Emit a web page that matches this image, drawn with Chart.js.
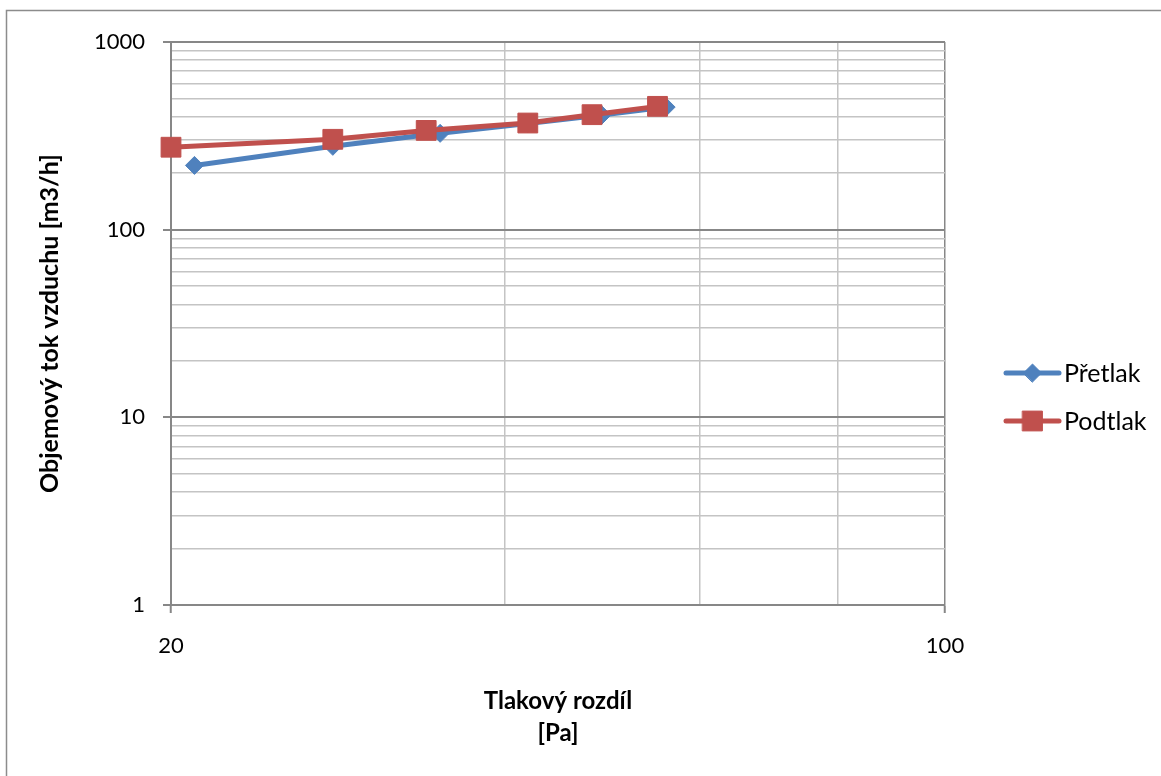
<!DOCTYPE html>
<html lang="cs">
<head>
<meta charset="utf-8">
<title>Objemový tok vzduchu</title>
<script src="https://cdn.jsdelivr.net/npm/chart.js@4/dist/chart.umd.min.js"></script>
<style>
  html, body { margin: 0; padding: 0; background: #ffffff; }
  #wrap { position: relative; width: 1161px; height: 776px; }
</style>
</head>
<body>
<div id="wrap"><canvas id="chart"></canvas></div>
<script>
// Measured series: pressure difference [Pa] vs. air flow [m3/h]
const pretlakX = [21, 28, 35, 42, 49, 56];
const pretlakY = [220, 278, 326, 368, 408, 450];
const podtlakX = [20, 28, 34, 42, 48, 55];
const podtlakY = [275, 303, 338, 370, 410, 454];

const seriesNames = ['Přetlak', 'Podtlak'];

// Axis ticks (log scales)
const yTickValues = [1, 2, 3, 4, 5, 6, 7, 8, 9,
                     10, 20, 30, 40, 50, 60, 70, 80, 90,
                     100, 200, 300, 400, 500, 600, 700, 800, 900, 1000];
const yLabelValues = [1, 10, 100, 1000];
const xTickValues = [20, 40, 60, 80, 100];
const xLabelValues = [20, 100];

const yTitle = 'Objemový tok vzduchu [m3/h]';
const xTitleLines = ['Tlakový rozdíl', '[Pa]'];

const BLUE = '#4F81BD';
const RED = '#C0504D';
const MAJOR_GRID = '#878787';
const MINOR_GRID = '#c4c4c4';
const FONT = 'Lato, "Open Sans", sans-serif';

const toPoints = (xs, ys) => xs.map((x, i) => ({ x: x, y: ys[i] }));

// Titles, legend and the outer frame are painted directly on the canvas
const decorations = {
  id: 'decorations',
  afterDraw(chart) {
    const ctx = chart.ctx;
    const area = chart.chartArea;
    ctx.save();

    // outer frame (left and top edges)
    ctx.strokeStyle = '#8c8c8c';
    ctx.lineWidth = 1.5;
    ctx.beginPath();
    ctx.moveTo(6.5, chart.height + 5);
    ctx.lineTo(6.5, 10.5);
    ctx.lineTo(chart.width + 5, 10.5);
    ctx.stroke();

    ctx.fillStyle = '#000000';
    ctx.textAlign = 'center';
    ctx.textBaseline = 'middle';

    // y axis title
    ctx.font = 'bold 25px ' + FONT;
    ctx.save();
    ctx.translate(50, (area.top + area.bottom) / 2);
    ctx.rotate(-Math.PI / 2);
    ctx.fillText(yTitle, 0, 0);
    ctx.restore();

    // x axis title (two lines)
    ctx.font = 'bold 24px ' + FONT;
    const cx = 558;
    ctx.fillText(xTitleLines[0], cx, 701);
    ctx.fillText(xTitleLines[1], cx, 733);

    // legend
    const colors = [BLUE, RED];
    const styles = ['rectRot', 'rect'];
    const radii = [9, 14];
    const rows = [373, 421];
    ctx.font = '25px ' + FONT;
    ctx.textAlign = 'left';
    for (let i = 0; i < seriesNames.length; i++) {
      const y = rows[i];
      ctx.strokeStyle = colors[i];
      ctx.lineWidth = 5;
      ctx.lineCap = 'round';
      ctx.beginPath();
      ctx.moveTo(1006, y);
      ctx.lineTo(1059, y);
      ctx.stroke();
      ctx.fillStyle = colors[i];
      ctx.lineWidth = 1;
      Chart.helpers.drawPoint(ctx, { pointStyle: styles[i], radius: radii[i], rotation: 0, borderWidth: 1 }, 1032.5, y);
      ctx.fillStyle = '#000000';
      ctx.fillText(seriesNames[i], 1064, y + 1);
    }
    ctx.restore();
  }
};

const gridColor = (labels, darkAlso) => (c) => {
  const v = c.tick ? c.tick.value : null;
  return (labels.includes(v) || (darkAlso && darkAlso.includes(v))) ? MAJOR_GRID : MINOR_GRID;
};

new Chart(document.getElementById('chart'), {
  type: 'scatter',
  data: {
    datasets: [
      {
        label: seriesNames[0],
        data: toPoints(pretlakX, pretlakY),
        showLine: true,
        borderColor: BLUE,
        backgroundColor: BLUE,
        borderWidth: 5,
        pointStyle: 'rectRot',
        pointRadius: 9,
        pointHoverRadius: 9,
        pointBorderWidth: 1,
        pointBorderColor: BLUE,
        pointBackgroundColor: BLUE,
        clip: false,
        order: 1
      },
      {
        label: seriesNames[1],
        data: toPoints(podtlakX, podtlakY),
        showLine: true,
        borderColor: RED,
        backgroundColor: RED,
        borderWidth: 5,
        pointStyle: 'rect',
        pointRadius: 14,
        pointHoverRadius: 14,
        pointBorderWidth: 1,
        pointBorderColor: RED,
        pointBackgroundColor: RED,
        clip: false,
        order: 0
      }
    ]
  },
  options: {
    responsive: true,
    maintainAspectRatio: false,
    animation: false,
    events: [],
    layout: { padding: { left: 0, top: 42, right: 216, bottom: 111 } },
    plugins: {
      legend: { display: false },
      tooltip: { enabled: false },
      title: { display: false }
    },
    scales: {
      x: {
        type: 'logarithmic',
        position: 'bottom',
        min: 20,
        max: 100,
        afterBuildTicks: (s) => { s.ticks = xTickValues.map(v => ({ value: v })); },
        afterFit: (s) => { s.height = 60; },
        border: { display: true, color: MAJOR_GRID, width: 2 },
        grid: {
          color: gridColor([], [100]),
          lineWidth: 1.5,
          drawTicks: true,
          tickLength: 8,
          tickColor: (c) => xLabelValues.includes(c.tick && c.tick.value) ? MAJOR_GRID : 'rgba(0,0,0,0)',
          tickWidth: 2
        },
        ticks: {
          autoSkip: false,
          maxRotation: 0,
          padding: 20,
          color: '#000000',
          font: { family: FONT, size: 22 },
          callback: (v) => xLabelValues.includes(v) ? String(v) : ''
        }
      },
      y: {
        type: 'logarithmic',
        position: 'left',
        min: 1,
        max: 1000,
        afterBuildTicks: (s) => { s.ticks = yTickValues.map(v => ({ value: v })); },
        afterFit: (s) => { s.width = 171; },
        border: { display: true, color: MAJOR_GRID, width: 2 },
        grid: {
          color: gridColor(yLabelValues),
          lineWidth: (c) => yLabelValues.includes(c.tick && c.tick.value) ? 2 : 1.5,
          drawTicks: true,
          tickLength: 8,
          tickColor: (c) => yLabelValues.includes(c.tick && c.tick.value) ? MAJOR_GRID : 'rgba(0,0,0,0)',
          tickWidth: 2
        },
        ticks: {
          autoSkip: false,
          padding: 18,
          color: '#000000',
          font: { family: FONT, size: 22 },
          callback: (v) => yLabelValues.includes(v) ? String(v) : ''
        }
      }
    }
  },
  plugins: [decorations]
});
</script>
</body>
</html>
